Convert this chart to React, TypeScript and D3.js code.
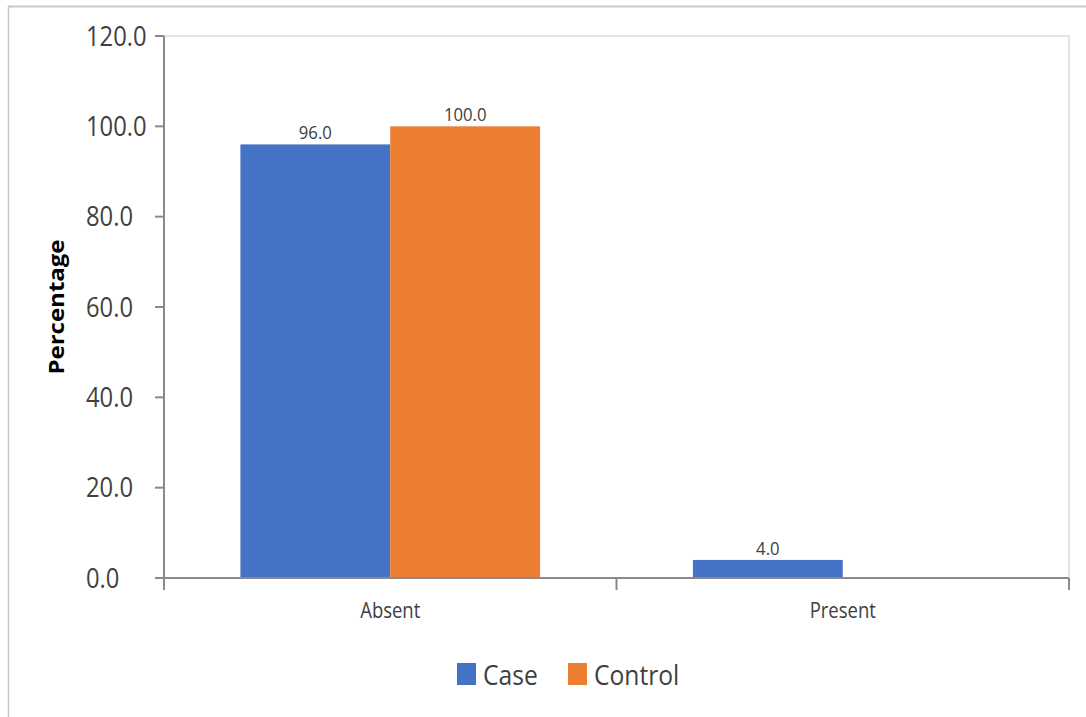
import React from "react";
import * as d3 from "d3";

const categories = ["Absent", "Present"];
const seriesNames = ["Case", "Control"];
const caseValues = [96.0, 4.0];
const controlValues = [100.0, 0];
const yTicks = [0, 20, 40, 60, 80, 100, 120];
const colors = ["#4472C4", "#ED7D31"];

const W = 1086;
const H = 717;
const plot = { left: 164, right: 1069, top: 36, bottom: 578 };
const font = "'Open Sans', 'Noto Sans', sans-serif";
const SQUEEZE = 0.88;
const ink = "#404040";

type LabelProps = {
  x: number;
  y: number;
  size: number;
  anchor?: "start" | "middle" | "end";
  dy?: string;
  weight?: string;
  fill?: string;
  children: React.ReactNode;
};

// Narrow-set text: drawn at its natural size, squeezed horizontally.
function Label({ x, y, size, anchor = "start", dy, weight = "normal", fill = ink, children }: LabelProps) {
  return (
    <g transform={`translate(${x},${y}) scale(${SQUEEZE},1)`}>
      <text textAnchor={anchor} dy={dy} fontFamily={font} fontSize={size} fontWeight={weight} fill={fill}>
        {children}
      </text>
    </g>
  );
}

export default function App() {
  const x = d3.scaleBand<string>().domain(categories).range([plot.left, plot.right]).paddingInner(0).paddingOuter(0);
  const inner = d3
    .scaleBand<string>()
    .domain(seriesNames)
    .range([0, x.bandwidth()])
    .paddingInner(0)
    .paddingOuter(0.51);
  const y = d3.scaleLinear().domain([0, 120]).range([plot.bottom, plot.top]);
  const series = [caseValues, controlValues];
  const boundaries = [plot.left, ...categories.map((c) => (x(c) as number) + x.bandwidth())];

  return (
    <svg width={W} height={H} style={{ position: "absolute", left: 0, top: 0, background: "#fff" }}>
      {/* outer frame */}
      <line x1={8} x2={W} y1={6.5} y2={6.5} stroke="#c8c8c8" strokeWidth={2} />
      <line x1={8.5} x2={8.5} y1={6} y2={H} stroke="#c8c8c8" strokeWidth={1.5} />

      {/* plot border */}
      <line x1={plot.left} x2={plot.right + 1} y1={y(120)} y2={y(120)} stroke="#e3e3e3" strokeWidth={2} />
      <line x1={plot.right} x2={plot.right} y1={y(120)} y2={plot.bottom} stroke="#e3e3e3" strokeWidth={2} />

      {series.map((vals, si) =>
        categories.map((c, ci) => {
          if (vals[ci] <= 0) return null;
          const bx = (x(c) as number) + (inner(seriesNames[si]) as number);
          return (
            <g key={`${si}-${ci}`}>
              <rect x={bx} y={y(vals[ci])} width={inner.bandwidth()} height={plot.bottom - y(vals[ci])} fill={colors[si]} />
              <Label x={bx + inner.bandwidth() / 2} y={y(vals[ci]) - 5} size={19} anchor="middle">
                {vals[ci].toFixed(1)}
              </Label>
            </g>
          );
        })
      )}

      {/* y axis */}
      <line x1={plot.left} x2={plot.left} y1={plot.top} y2={plot.bottom + 12} stroke="#8a8a8a" strokeWidth={2} />
      {yTicks.map((t) => (
        <g key={t}>
          <line x1={plot.left - 9} x2={plot.left} y1={y(t)} y2={y(t)} stroke="#8a8a8a" strokeWidth={2} />
          <Label x={86} y={y(t)} dy="0.36em" size={27} anchor="start">
            {t.toFixed(1)}
          </Label>
        </g>
      ))}

      {/* x axis */}
      <line x1={plot.left - 9} x2={plot.right} y1={plot.bottom} y2={plot.bottom} stroke="#8a8a8a" strokeWidth={2} />
      {boundaries.map((b, i) => (
        <line key={i} x1={b} x2={b} y1={plot.bottom} y2={plot.bottom + 12} stroke="#8a8a8a" strokeWidth={2} />
      ))}
      {categories.map((c) => (
        <Label key={c} x={(x(c) as number) + x.bandwidth() / 2} y={plot.bottom + 40} size={21} anchor="middle">
          {c}
        </Label>
      ))}

      <g transform={`translate(64, ${(plot.top + plot.bottom) / 2}) rotate(-90) scale(1, ${SQUEEZE})`}>
        <text textAnchor="middle" fontFamily={font} fontSize={24} fontWeight="bold" fill="#000">
          Percentage
        </text>
      </g>

      {/* legend */}
      {seriesNames.map((s, i) => {
        const lx = [457, 568][i];
        return (
          <g key={s}>
            <rect x={lx} y={663} width={19} height={22} fill={colors[i]} />
            <Label x={lx + 26} y={685} size={28}>
              {s}
            </Label>
          </g>
        );
      })}
    </svg>
  );
}
